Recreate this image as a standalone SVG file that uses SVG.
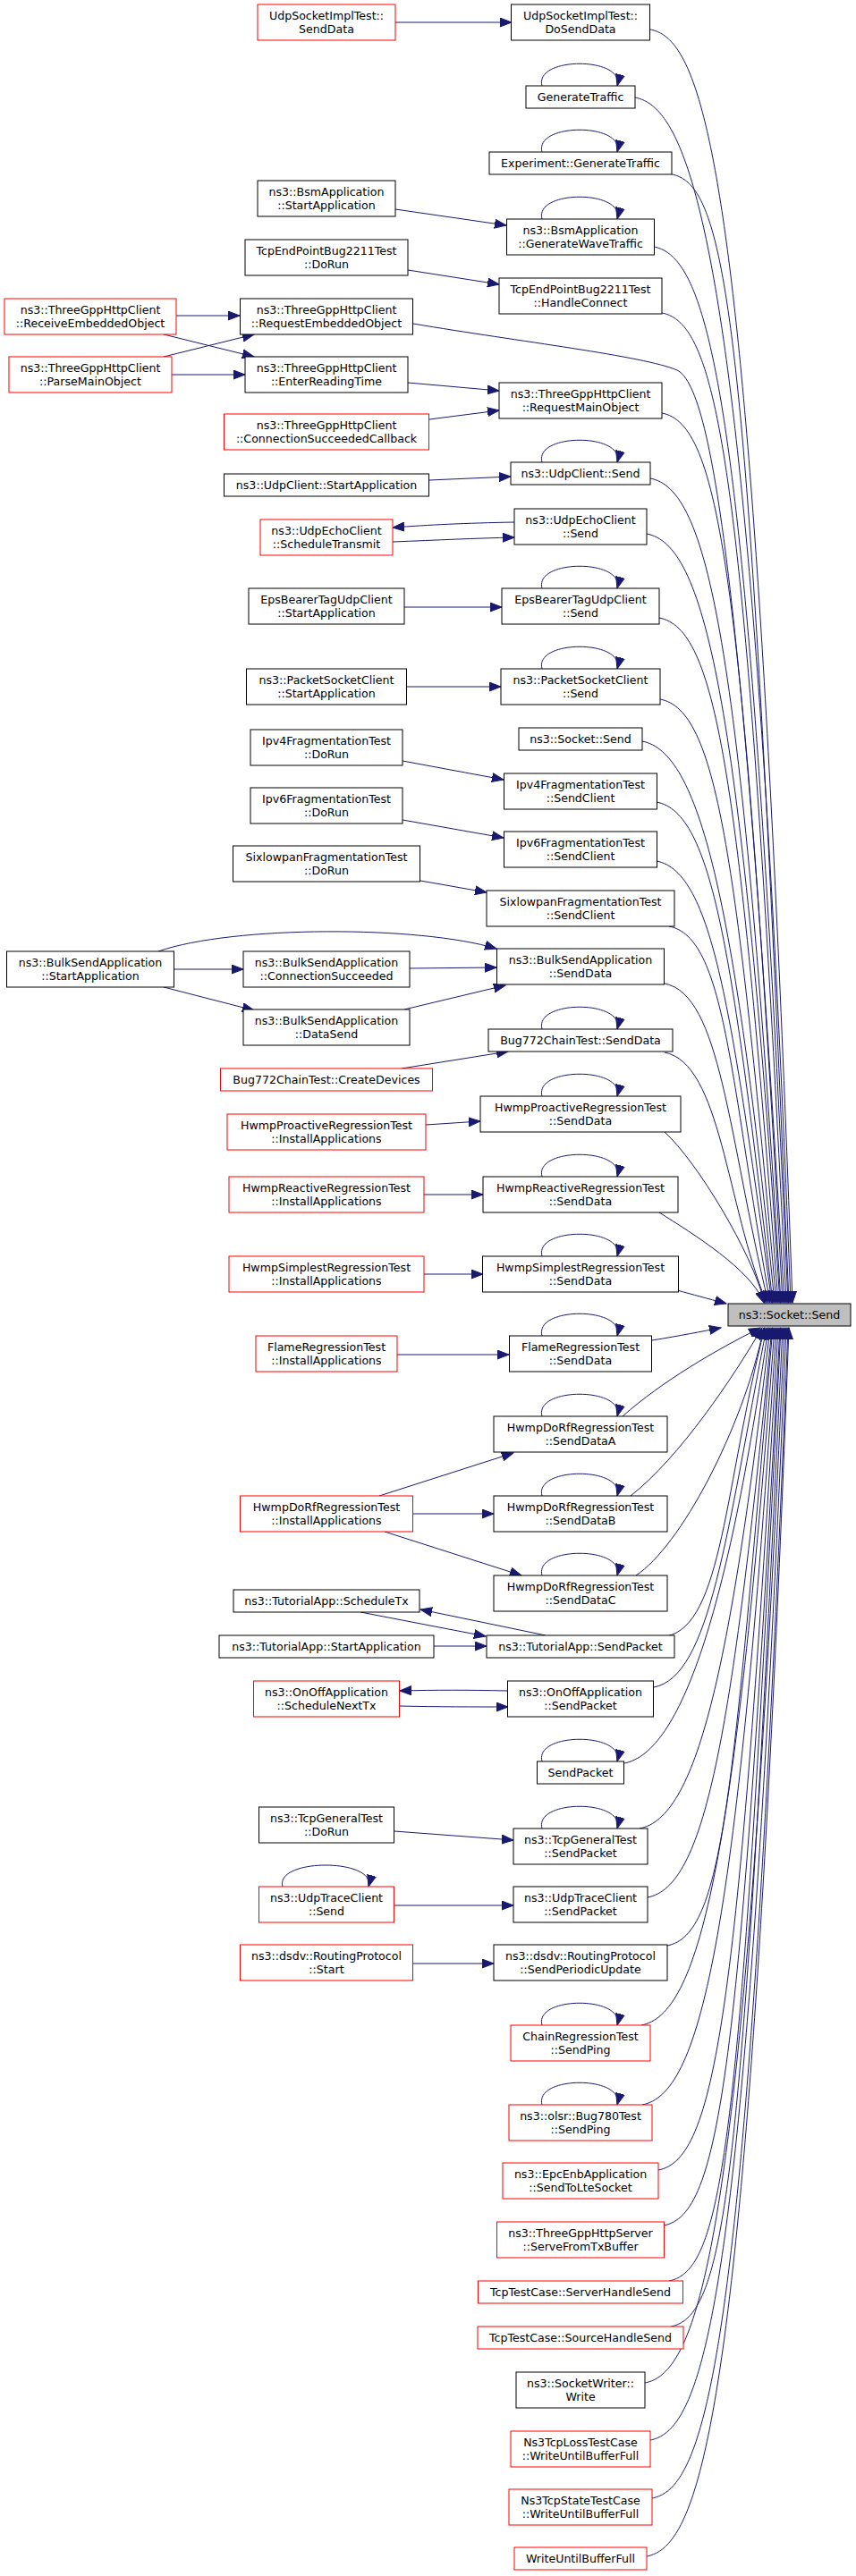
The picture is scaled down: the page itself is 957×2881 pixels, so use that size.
<svg xmlns="http://www.w3.org/2000/svg" width="957" height="2881" viewBox="0 0 957 2881">
<defs>
<style>
.n rect{fill:#fff;stroke:#000;stroke-width:1}
.r rect{fill:#fff;stroke:#f00;stroke-width:1}
.t rect{fill:#bfbfbf;stroke:#000;stroke-width:1}
text{font-family:"DejaVu Sans","Liberation Sans",sans-serif;font-size:12.6px;fill:#000;text-anchor:middle}
#edges path{fill:none;stroke:#191970;stroke-width:1;marker-end:url(#a)}
</style>
<marker id="a" markerUnits="userSpaceOnUse" viewBox="0 0 14 11" markerWidth="14" markerHeight="11" refX="13" refY="5.5" orient="auto">
<path d="M0,0.5 L13,5.5 L0,10.5 z" fill="#191970" stroke="#191970" stroke-width="1"/>
</marker>
</defs>
<rect width="957" height="2881" fill="#fff"/>
<g id="edges">
<path d="M442,25 L572,25"/>
<path d="M442,234 L566,252"/>
<path d="M456,302 L558,318"/>
<path d="M197,353 L268,353"/>
<path d="M183,374 L284,399"/>
<path d="M183,399 L284,374"/>
<path d="M192,419 L274,419"/>
<path d="M456,428 L558,437"/>
<path d="M480,469 L558,459"/>
<path d="M480,537 L571,533"/>
<path d="M575,584 C520,585 480,587 439,590"/>
<path d="M439,606 C490,604 530,602 575,601"/>
<path d="M452,679 L561,679"/>
<path d="M455,768 L560,768"/>
<path d="M450,851 L563,872"/>
<path d="M450,917 L563,937"/>
<path d="M470,985 L544,998"/>
<path d="M177,1064 C260,1035 470,1035 555,1061"/>
<path d="M194,1084 L272,1084"/>
<path d="M458,1083 L555,1082"/>
<path d="M183,1104 L284,1130"/>
<path d="M452,1129 L565,1102"/>
<path d="M449,1195 L568,1176"/>
<path d="M476,1258 L537,1254"/>
<path d="M474,1336 L540,1336"/>
<path d="M474,1425 L540,1425"/>
<path d="M444,1515 L569,1515"/>
<path d="M424,1673 L574,1625"/>
<path d="M462,1693 L552,1693"/>
<path d="M430,1713 L583,1762"/>
<path d="M403,1803 L543,1830"/>
<path d="M610,1829 L470,1800"/>
<path d="M485,1841 L544,1841"/>
<path d="M568,1891 C520,1890 490,1890 447,1891"/>
<path d="M447,1908 C490,1909 530,1909 568,1909"/>
<path d="M441,2048 L574,2058"/>
<path d="M441,2131 L574,2131"/>
<path d="M462,2196 L552,2196"/>
<!-- self loops -->
<path d="M606,96 C597,63 699,63 690,96"/>
<path d="M606,170 C597,137 699,137 690,170"/>
<path d="M606,245 C597,212 699,212 690,245"/>
<path d="M606,517 C597,484 699,484 690,517"/>
<path d="M606,658 C597,625 699,625 690,658"/>
<path d="M606,748 C597,715 699,715 690,748"/>
<path d="M606,1151 C597,1118 699,1118 690,1151"/>
<path d="M606,1226 C597,1193 699,1193 690,1226"/>
<path d="M606,1316 C597,1283 699,1283 690,1316"/>
<path d="M606,1405 C597,1372 699,1372 690,1405"/>
<path d="M606,1494 C597,1461 699,1461 690,1494"/>
<path d="M606,1584 C597,1551 699,1551 690,1584"/>
<path d="M606,1673 C597,1640 699,1640 690,1673"/>
<path d="M606,1762 C597,1729 699,1729 690,1762"/>
<path d="M606,1970 C597,1937 699,1937 690,1970"/>
<path d="M606,2045 C597,2012 699,2012 690,2045"/>
<path d="M316,2110 C307,2078 421,2078 412,2110"/>
<path d="M606,2265 C597,2232 699,2232 690,2265"/>
<path d="M606,2354 C597,2321 699,2321 690,2354"/>
<!-- into target from above -->
<path d="M727,33 C790,45 841,203 886,1457"/>
<path d="M710,109 C773,121 839,279 884,1457"/>
<path d="M751,195 C814,207 837,365 882,1457"/>
<path d="M731,276 C794,288 836,446 881,1457"/>
<path d="M740,350 C803,362 834,520 879,1457"/>
<path d="M462,362 C580,382 720,398 757,414 C800,435 832,700 877,1457"/>
<path d="M740,462 C803,474 830,632 875,1457"/>
<path d="M727,535 C790,547 828,705 873,1457"/>
<path d="M723,597 C786,609 827,767 872,1457"/>
<path d="M737,691 C800,703 825,861 870,1457"/>
<path d="M738,782 C801,794 823,952 868,1457"/>
<path d="M718,829 C781,841 821,999 866,1457"/>
<path d="M734,897 C797,909 819,1067 864,1457"/>
<path d="M734,963 C797,975 818,1133 863,1457"/>
<path d="M748,1036 C811,1048 816,1206 861,1457"/>
<path d="M743,1100 C806,1112 814,1270 859,1457"/>
<path d="M743,1177 C806,1189 812,1347 857,1457"/>
<path d="M743,1266 C780,1300 840,1400 855,1457"/>
<path d="M737,1356 C775,1380 840,1420 854,1457"/>
<path d="M757,1443 C775,1448 790,1452 812,1458"/>
<!-- into target from below -->
<path d="M729,1499 C760,1494 785,1489 806,1485"/>
<path d="M696,1584 C740,1545 800,1510 850,1485"/>
<path d="M705,1673 C760,1630 820,1540 852,1485"/>
<path d="M711,1762 C760,1730 830,1600 854,1485"/>
<path d="M745,1830 C808,1818 810,1660 855,1485"/>
<path d="M731,1887 C794,1875 812,1717 857,1485"/>
<path d="M698,1972 C761,1960 814,1802 859,1485"/>
<path d="M715,2045 C778,2033 816,1875 861,1485"/>
<path d="M724,2122 C787,2110 818,1952 863,1485"/>
<path d="M746,2176 C809,2164 819,2006 864,1485"/>
<path d="M717,2265 C780,2253 821,2095 866,1485"/>
<path d="M718,2354 C781,2342 823,2184 868,1485"/>
<path d="M736,2427 C799,2415 825,2257 870,1485"/>
<path d="M742,2489 C805,2477 827,2319 872,1485"/>
<path d="M748,2551 C811,2539 828,2381 873,1485"/>
<path d="M750,2602 C813,2590 830,2432 875,1485"/>
<path d="M721,2665 C784,2653 832,2495 877,1485"/>
<path d="M727,2729 C790,2717 834,2559 879,1485"/>
<path d="M729,2794 C792,2782 836,2624 881,1485"/>
<path d="M723,2859 C786,2847 837,2689 882,1485"/>
</g>
<g id="target" class="t"><rect x="814" y="1458" width="137" height="25"/><text x="882.5" y="1474.5">ns3::Socket::Send</text></g>
<g id="n1" class="r"><rect x="288" y="5" width="154" height="40"/><text x="365" y="21.5">UdpSocketImplTest::<tspan x="365" dy="15">SendData</tspan></text></g>
<g id="n2" class="n"><rect x="571.5" y="5" width="155" height="40"/><text x="649" y="21.5">UdpSocketImplTest::<tspan x="649" dy="15">DoSendData</tspan></text></g>
<g id="n3" class="n"><rect x="588" y="96" width="122" height="25"/><text x="649" y="112.5">GenerateTraffic</text></g>
<g id="n4" class="n"><rect x="547" y="170" width="204" height="25"/><text x="649" y="186.5">Experiment::GenerateTraffic</text></g>
<g id="n5" class="n"><rect x="288" y="202" width="154" height="40"/><text x="365" y="218.5">ns3::BsmApplication<tspan x="365" dy="15">::StartApplication</tspan></text></g>
<g id="n6" class="n"><rect x="566.5" y="245" width="165" height="40"/><text x="649" y="261.5">ns3::BsmApplication<tspan x="649" dy="15">::GenerateWaveTraffic</tspan></text></g>
<g id="n7" class="n"><rect x="274" y="268" width="182" height="40"/><text x="365" y="284.5">TcpEndPointBug2211Test<tspan x="365" dy="15">::DoRun</tspan></text></g>
<g id="n8" class="n"><rect x="558" y="311" width="182" height="40"/><text x="649" y="327.5">TcpEndPointBug2211Test<tspan x="649" dy="15">::HandleConnect</tspan></text></g>
<g id="n9" class="r"><rect x="5" y="334" width="192" height="40"/><text x="101" y="350.5">ns3::ThreeGppHttpClient<tspan x="101" dy="15">::ReceiveEmbeddedObject</tspan></text></g>
<g id="n10" class="n"><rect x="268.5" y="334" width="193" height="40"/><text x="365" y="350.5">ns3::ThreeGppHttpClient<tspan x="365" dy="15">::RequestEmbeddedObject</tspan></text></g>
<g id="n11" class="r"><rect x="10" y="399" width="182" height="40"/><text x="101" y="415.5">ns3::ThreeGppHttpClient<tspan x="101" dy="15">::ParseMainObject</tspan></text></g>
<g id="n12" class="n"><rect x="274" y="399" width="182" height="40"/><text x="365" y="415.5">ns3::ThreeGppHttpClient<tspan x="365" dy="15">::EnterReadingTime</tspan></text></g>
<g id="n13" class="n"><rect x="558" y="428" width="182" height="40"/><text x="649" y="444.5">ns3::ThreeGppHttpClient<tspan x="649" dy="15">::RequestMainObject</tspan></text></g>
<g id="n14" class="r"><rect x="250.5" y="463" width="229" height="40"/><text x="365" y="479.5">ns3::ThreeGppHttpClient<tspan x="365" dy="15">::ConnectionSucceededCallback</tspan></text></g>
<g id="n15" class="n"><rect x="571" y="517" width="156" height="25"/><text x="649" y="533.5">ns3::UdpClient::Send</text></g>
<g id="n16" class="n"><rect x="250.5" y="530" width="229" height="25"/><text x="365" y="546.5">ns3::UdpClient::StartApplication</text></g>
<g id="n17" class="r"><rect x="291" y="581" width="148" height="40"/><text x="365" y="597.5">ns3::UdpEchoClient<tspan x="365" dy="15">::ScheduleTransmit</tspan></text></g>
<g id="n18" class="n"><rect x="575" y="569" width="148" height="40"/><text x="649" y="585.5">ns3::UdpEchoClient<tspan x="649" dy="15">::Send</tspan></text></g>
<g id="n19" class="n"><rect x="278" y="658" width="174" height="40"/><text x="365" y="674.5">EpsBearerTagUdpClient<tspan x="365" dy="15">::StartApplication</tspan></text></g>
<g id="n20" class="n"><rect x="561" y="658" width="176" height="40"/><text x="649" y="674.5">EpsBearerTagUdpClient<tspan x="649" dy="15">::Send</tspan></text></g>
<g id="n21" class="n"><rect x="275.5" y="748" width="179" height="40"/><text x="365" y="764.5">ns3::PacketSocketClient<tspan x="365" dy="15">::StartApplication</tspan></text></g>
<g id="n22" class="n"><rect x="560" y="748" width="178" height="40"/><text x="649" y="764.5">ns3::PacketSocketClient<tspan x="649" dy="15">::Send</tspan></text></g>
<g id="n23" class="n"><rect x="580" y="814" width="138" height="25"/><text x="649" y="830.5">ns3::Socket::Send</text></g>
<g id="n24" class="n"><rect x="280" y="816" width="170" height="40"/><text x="365" y="832.5">Ipv4FragmentationTest<tspan x="365" dy="15">::DoRun</tspan></text></g>
<g id="n25" class="n"><rect x="563.5" y="865" width="171" height="40"/><text x="649" y="881.5">Ipv4FragmentationTest<tspan x="649" dy="15">::SendClient</tspan></text></g>
<g id="n26" class="n"><rect x="280" y="881" width="170" height="40"/><text x="365" y="897.5">Ipv6FragmentationTest<tspan x="365" dy="15">::DoRun</tspan></text></g>
<g id="n27" class="n"><rect x="563.5" y="930" width="171" height="40"/><text x="649" y="946.5">Ipv6FragmentationTest<tspan x="649" dy="15">::SendClient</tspan></text></g>
<g id="n28" class="n"><rect x="260.5" y="946" width="209" height="40"/><text x="365" y="962.5">SixlowpanFragmentationTest<tspan x="365" dy="15">::DoRun</tspan></text></g>
<g id="n29" class="n"><rect x="544" y="996" width="210" height="40"/><text x="649" y="1012.5">SixlowpanFragmentationTest<tspan x="649" dy="15">::SendClient</tspan></text></g>
<g id="n30" class="n"><rect x="7.5" y="1064" width="187" height="40"/><text x="101" y="1080.5">ns3::BulkSendApplication<tspan x="101" dy="15">::StartApplication</tspan></text></g>
<g id="n31" class="n"><rect x="272" y="1064" width="186" height="40"/><text x="365" y="1080.5">ns3::BulkSendApplication<tspan x="365" dy="15">::ConnectionSucceeded</tspan></text></g>
<g id="n32" class="n"><rect x="555.5" y="1061" width="187" height="40"/><text x="649" y="1077.5">ns3::BulkSendApplication<tspan x="649" dy="15">::SendData</tspan></text></g>
<g id="n33" class="n"><rect x="272" y="1129" width="186" height="40"/><text x="365" y="1145.5">ns3::BulkSendApplication<tspan x="365" dy="15">::DataSend</tspan></text></g>
<g id="n34" class="n"><rect x="546" y="1151" width="206" height="25"/><text x="649" y="1167.5">Bug772ChainTest::SendData</text></g>
<g id="n35" class="r"><rect x="246.5" y="1195" width="237" height="25"/><text x="365" y="1211.5">Bug772ChainTest::CreateDevices</text></g>
<g id="n36" class="n"><rect x="537" y="1226" width="224" height="40"/><text x="649" y="1242.5">HwmpProactiveRegressionTest<tspan x="649" dy="15">::SendData</tspan></text></g>
<g id="n37" class="r"><rect x="254" y="1246" width="222" height="40"/><text x="365" y="1262.5">HwmpProactiveRegressionTest<tspan x="365" dy="15">::InstallApplications</tspan></text></g>
<g id="n38" class="r"><rect x="256" y="1316" width="218" height="40"/><text x="365" y="1332.5">HwmpReactiveRegressionTest<tspan x="365" dy="15">::InstallApplications</tspan></text></g>
<g id="n39" class="n"><rect x="540" y="1316" width="218" height="40"/><text x="649" y="1332.5">HwmpReactiveRegressionTest<tspan x="649" dy="15">::SendData</tspan></text></g>
<g id="n40" class="r"><rect x="256" y="1405" width="218" height="40"/><text x="365" y="1421.5">HwmpSimplestRegressionTest<tspan x="365" dy="15">::InstallApplications</tspan></text></g>
<g id="n41" class="n"><rect x="539.5" y="1405" width="219" height="40"/><text x="649" y="1421.5">HwmpSimplestRegressionTest<tspan x="649" dy="15">::SendData</tspan></text></g>
<g id="n42" class="r"><rect x="286" y="1494" width="158" height="40"/><text x="365" y="1510.5">FlameRegressionTest<tspan x="365" dy="15">::InstallApplications</tspan></text></g>
<g id="n43" class="n"><rect x="569.5" y="1494" width="159" height="40"/><text x="649" y="1510.5">FlameRegressionTest<tspan x="649" dy="15">::SendData</tspan></text></g>
<g id="n44" class="n"><rect x="552" y="1584" width="194" height="40"/><text x="649" y="1600.5">HwmpDoRfRegressionTest<tspan x="649" dy="15">::SendDataA</tspan></text></g>
<g id="n45" class="r"><rect x="268.5" y="1673" width="193" height="40"/><text x="365" y="1689.5">HwmpDoRfRegressionTest<tspan x="365" dy="15">::InstallApplications</tspan></text></g>
<g id="n46" class="n"><rect x="552" y="1673" width="194" height="40"/><text x="649" y="1689.5">HwmpDoRfRegressionTest<tspan x="649" dy="15">::SendDataB</tspan></text></g>
<g id="n47" class="n"><rect x="552" y="1762" width="194" height="40"/><text x="649" y="1778.5">HwmpDoRfRegressionTest<tspan x="649" dy="15">::SendDataC</tspan></text></g>
<g id="n48" class="n"><rect x="261" y="1778" width="208" height="25"/><text x="365" y="1794.5">ns3::TutorialApp::ScheduleTx</text></g>
<g id="n49" class="n"><rect x="245" y="1829" width="240" height="25"/><text x="365" y="1845.5">ns3::TutorialApp::StartApplication</text></g>
<g id="n50" class="n"><rect x="544" y="1829" width="210" height="25"/><text x="649" y="1845.5">ns3::TutorialApp::SendPacket</text></g>
<g id="n51" class="r"><rect x="283.5" y="1880" width="163" height="40"/><text x="365" y="1896.5">ns3::OnOffApplication<tspan x="365" dy="15">::ScheduleNextTx</tspan></text></g>
<g id="n52" class="n"><rect x="567.5" y="1880" width="163" height="40"/><text x="649" y="1896.5">ns3::OnOffApplication<tspan x="649" dy="15">::SendPacket</tspan></text></g>
<g id="n53" class="n"><rect x="600.5" y="1970" width="97" height="25"/><text x="649" y="1986.5">SendPacket</text></g>
<g id="n54" class="n"><rect x="289.5" y="2021" width="151" height="40"/><text x="365" y="2037.5">ns3::TcpGeneralTest<tspan x="365" dy="15">::DoRun</tspan></text></g>
<g id="n55" class="n"><rect x="574" y="2045" width="150" height="40"/><text x="649" y="2061.5">ns3::TcpGeneralTest<tspan x="649" dy="15">::SendPacket</tspan></text></g>
<g id="n56" class="r"><rect x="289.5" y="2110" width="151" height="40"/><text x="365" y="2126.5">ns3::UdpTraceClient<tspan x="365" dy="15">::Send</tspan></text></g>
<g id="n57" class="n"><rect x="574" y="2110" width="150" height="40"/><text x="649" y="2126.5">ns3::UdpTraceClient<tspan x="649" dy="15">::SendPacket</tspan></text></g>
<g id="n58" class="r"><rect x="268.5" y="2175" width="193" height="40"/><text x="365" y="2191.5">ns3::dsdv::RoutingProtocol<tspan x="365" dy="15">::Start</tspan></text></g>
<g id="n59" class="n"><rect x="552" y="2175" width="194" height="40"/><text x="649" y="2191.5">ns3::dsdv::RoutingProtocol<tspan x="649" dy="15">::SendPeriodicUpdate</tspan></text></g>
<g id="n60" class="r"><rect x="571" y="2265" width="156" height="40"/><text x="649" y="2281.5">ChainRegressionTest<tspan x="649" dy="15">::SendPing</tspan></text></g>
<g id="n61" class="r"><rect x="569" y="2354" width="160" height="40"/><text x="649" y="2370.5">ns3::olsr::Bug780Test<tspan x="649" dy="15">::SendPing</tspan></text></g>
<g id="n62" class="r"><rect x="562" y="2419" width="174" height="40"/><text x="649" y="2435.5">ns3::EpcEnbApplication<tspan x="649" dy="15">::SendToLteSocket</tspan></text></g>
<g id="n63" class="r"><rect x="555.5" y="2485" width="187" height="40"/><text x="649" y="2501.5">ns3::ThreeGppHttpServer<tspan x="649" dy="15">::ServeFromTxBuffer</tspan></text></g>
<g id="n64" class="r"><rect x="534.5" y="2551" width="229" height="25"/><text x="649" y="2567.5">TcpTestCase::ServerHandleSend</text></g>
<g id="n65" class="r"><rect x="534" y="2602" width="230" height="25"/><text x="649" y="2618.5">TcpTestCase::SourceHandleSend</text></g>
<g id="n66" class="n"><rect x="577" y="2653" width="144" height="40"/><text x="649" y="2669.5">ns3::SocketWriter::<tspan x="649" dy="15">Write</tspan></text></g>
<g id="n67" class="r"><rect x="571" y="2719" width="156" height="40"/><text x="649" y="2735.5">Ns3TcpLossTestCase<tspan x="649" dy="15">::WriteUntilBufferFull</tspan></text></g>
<g id="n68" class="r"><rect x="569" y="2784" width="160" height="40"/><text x="649" y="2800.5">Ns3TcpStateTestCase<tspan x="649" dy="15">::WriteUntilBufferFull</tspan></text></g>
<g id="n69" class="r"><rect x="575" y="2849" width="148" height="25"/><text x="649" y="2865.5">WriteUntilBufferFull</text></g>
</svg>
